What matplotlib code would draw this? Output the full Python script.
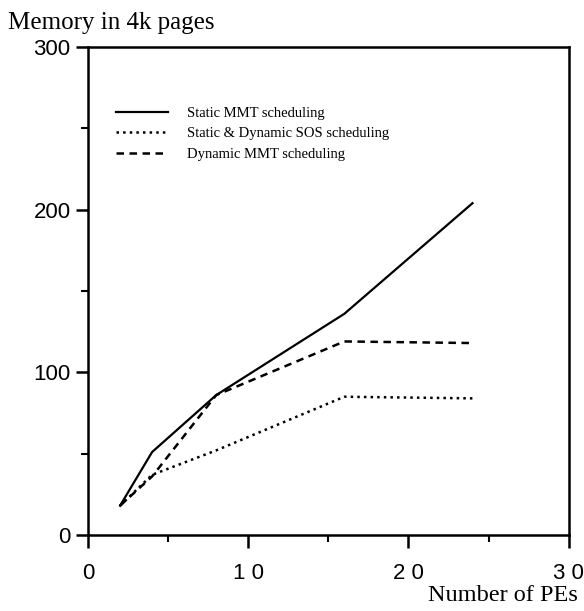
import matplotlib.pyplot as plt
from matplotlib.ticker import MultipleLocator

PES = [2, 4, 8, 16, 24]
static_mmt = [18, 51, 86, 136, 204]
sos = [18, 37, 52, 85, 84]
dynamic_mmt = [18, 36, 86, 119, 118]

SERIF = "Liberation Serif"
SANS = "Liberation Sans"

fig = plt.figure(figsize=(5.84, 6.11), dpi=100)
ax = fig.add_axes([0.1507, 0.1244, 0.823, 0.7986])

ax.plot(PES, static_mmt, "-", color="black", lw=1.6, label="Static MMT scheduling")
ax.plot(PES, sos, ":", color="black", lw=1.8, label="Static & Dynamic SOS scheduling")
ax.plot(PES, dynamic_mmt, "--", color="black", lw=1.8, dashes=(3, 2.2),
        label="Dynamic MMT scheduling")

ax.set_xlim(0, 30)
ax.set_ylim(0, 300)
ax.xaxis.set_major_locator(MultipleLocator(10))
ax.xaxis.set_minor_locator(MultipleLocator(5))
ax.yaxis.set_major_locator(MultipleLocator(100))
ax.yaxis.set_minor_locator(MultipleLocator(50))
ax.set_xticklabels([])
ax.tick_params(which="major", direction="out", length=9, width=1.8, labelsize=16)
ax.tick_params(which="minor", direction="out", length=5, width=1.5)
for s in ax.spines.values():
    s.set_linewidth(1.8)

# x labels are letter-spaced in the original ("1 0", "2 0")
for v in [0, 10, 20, 30]:
    ax.text(v, -17, " ".join(str(v)), ha="center", va="top", fontsize=16,
            family=SANS, transform=ax.transData)
for lbl in ax.get_yticklabels():
    lbl.set_family(SANS)

fig.text(0.013, 0.962, "Memory in 4k pages", fontsize=18, family=SERIF,
         ha="left", va="center")
fig.text(0.99, 0.008, "Number of PEs", fontsize=17.5, family=SERIF,
         ha="right", va="bottom")

ax.legend(loc="upper left", bbox_to_anchor=(0.058, 0.878), frameon=False,
          prop={"family": SERIF, "size": 10.5}, handlelength=3.6,
          handletextpad=1.3, labelspacing=0.5, borderpad=0, borderaxespad=0)

fig.savefig("out.png", dpi=100)
